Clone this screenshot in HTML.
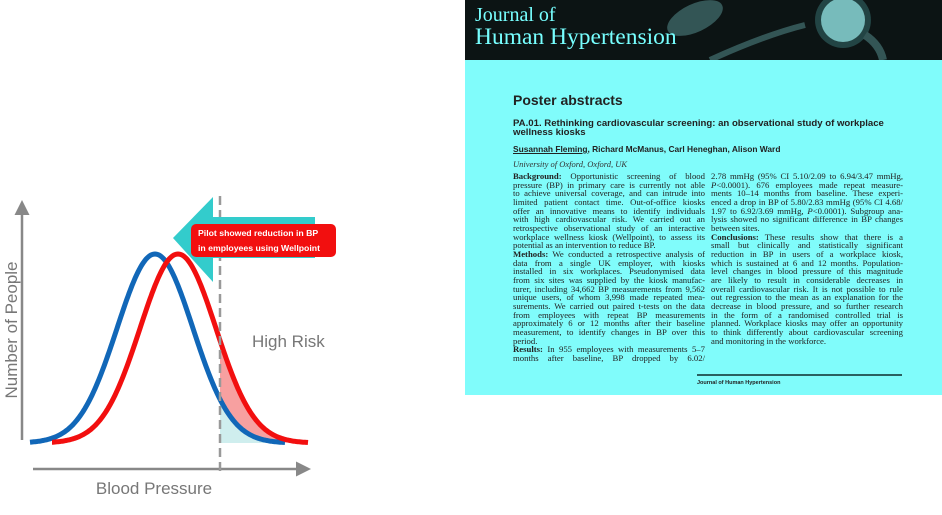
<!DOCTYPE html>
<html><head><meta charset="utf-8">
<style>
*{margin:0;padding:0;box-sizing:border-box}
body{width:942px;height:515px;background:#fff;position:relative;overflow:hidden;font-family:"Liberation Sans",sans-serif}
#panel{position:absolute;left:465px;top:0;width:477px;height:395px;background:#80fcfb}
#hdr{position:absolute;left:0;top:0;width:477px;height:60px;background:#0c1414;overflow:hidden}
.jt{position:absolute;left:10px;color:#7ff;font-family:"Liberation Serif",serif;white-space:nowrap}
.col{position:absolute;top:172px;width:192px;font-family:"Liberation Serif",serif;font-size:8.7px;line-height:8.68px;color:#222}
.col div{text-align:justify;text-align-last:justify;white-space:nowrap;height:8.68px}
.col div.l{text-align-last:left}
b{font-weight:bold}
</style></head><body>
<svg width="465" height="515" style="position:absolute;left:0;top:0">
<defs><marker id="ah" markerWidth="8" markerHeight="8" refX="4" refY="4" orient="auto"><path d="M0,1 L6,4 L0,7 z" fill="#888"/></marker></defs>
<line x1="22" y1="440" x2="22" y2="205" stroke="#888" stroke-width="2.5" marker-end="url(#ah)"/>
<line x1="33" y1="469" x2="306" y2="469" stroke="#888" stroke-width="2.5" marker-end="url(#ah)"/>
<path id="fillred" fill="#f7a0a0"/>
<path id="fillblue" fill="#cfeeee"/>
<path id="blue" fill="none" stroke="#1167b8" stroke-width="5"/>
<path id="red" fill="none" stroke="#f20f0f" stroke-width="5"/>
<line x1="220" y1="196" x2="220" y2="476" stroke="#999" stroke-width="2.5" stroke-dasharray="9,5"/>
<polygon points="173,238 213,197 213,217 315,217 315,258 213,258 213,282" fill="#33cccc"/>
<rect x="191" y="224" width="145" height="33" rx="5" fill="#f20f0f"/>
<text x="198" y="236" font-size="8.7" font-weight="bold" fill="#fff">Pilot showed reduction in BP</text>
<text x="198" y="251" font-size="8.7" font-weight="bold" fill="#fff">in employees using Wellpoint</text>
<text x="252" y="347" font-size="17" fill="#777">High Risk</text>
<text x="154" y="494" font-size="17" fill="#777" text-anchor="middle">Blood Pressure</text>
<text transform="translate(17,330) rotate(-90)" font-size="17" fill="#777" text-anchor="middle">Number of People</text>
</svg>
<script>
function g(m,x){return 443-189*Math.exp(-Math.pow((x-m)/38,2)/2);}
function pth(m,a,b){let s="";for(let x=a;x<=b;x+=1){s+=(x==a?"M":"L")+x+","+g(m,x).toFixed(1);}return s;}
document.getElementById('blue').setAttribute('d',pth(155,30,285));
document.getElementById('red').setAttribute('d',pth(178,52,308));
let s="M220,"+g(178,220).toFixed(1);for(let x=220;x<=300;x++)s+="L"+x+","+g(178,x).toFixed(1);for(let x=300;x>=220;x--)s+="L"+x+","+g(155,x).toFixed(1);s+="Z";
document.getElementById('fillred').setAttribute('d',s);
let t="M220,443";for(let x=220;x<=280;x++)t+="L"+x+","+g(155,x).toFixed(1);t+="L280,443Z";
document.getElementById('fillblue').setAttribute('d',t);
</script>
<div id="panel">
<div id="hdr">
<svg width="477" height="60" style="position:absolute;left:0;top:0">
<ellipse cx="230" cy="18" rx="30" ry="14" fill="#355" transform="rotate(-25 230 18)"/>
<path d="M245,60 Q300,35 340,25" stroke="#355" stroke-width="6" fill="none"/>
<circle cx="378" cy="20" r="28" fill="#244"/>
<circle cx="378" cy="20" r="22" fill="#7bb"/>
<path d="M400,35 Q415,45 418,60" stroke="#355" stroke-width="8" fill="none"/>
</svg>
<div class="jt" style="top:4px;font-size:20px">Journal of</div>
<div class="jt" style="top:24px;font-size:23.5px">Human Hypertension</div>
</div>
<div style="position:absolute;left:48px;top:92px;font-size:14px;font-weight:bold;color:#222">Poster abstracts</div>
<div style="position:absolute;left:48px;top:119px;font-size:9.6px;font-weight:bold;color:#222;line-height:9px;width:420px;white-space:nowrap">PA.01. Rethinking cardiovascular screening: an observational study of workplace<br>wellness kiosks</div>
<div style="position:absolute;left:48px;top:144px;font-size:8.4px;font-weight:bold;color:#222"><u>Susannah Fleming</u>, Richard McManus, Carl Heneghan, Alison Ward</div>
<div style="position:absolute;left:48px;top:159px;font-size:8.5px;font-style:italic;font-family:'Liberation Serif',serif;color:#333">University of Oxford, Oxford, UK</div>
<div class="col" style="left:48px">
<div><b>Background:</b> Opportunistic screening of blood</div>
<div>pressure (BP) in primary care is currently not able</div>
<div>to achieve universal coverage, and can intrude into</div>
<div>limited patient contact time. Out-of-office kiosks</div>
<div>offer an innovative means to identify individuals</div>
<div>with high cardiovascular risk. We carried out an</div>
<div>retrospective observational study of an interactive</div>
<div>workplace wellness kiosk (Wellpoint), to assess its</div>
<div class="l">potential as an intervention to reduce BP.</div>
<div><b>Methods:</b> We conducted a retrospective analysis of</div>
<div>data from a single UK employer, with kiosks</div>
<div>installed in six workplaces. Pseudonymised data</div>
<div>from six sites was supplied by the kiosk manufac-</div>
<div>turer, including 34,662 BP measurements from 9,562</div>
<div>unique users, of whom 3,998 made repeated mea-</div>
<div>surements. We carried out paired t-tests on the data</div>
<div>from employees with repeat BP measurements</div>
<div>approximately 6 or 12 months after their baseline</div>
<div>measurement, to identify changes in BP over this</div>
<div class="l">period.</div>
<div><b>Results:</b> In 955 employees with measurements 5–7</div>
<div>months after baseline, BP dropped by 6.02/</div>
</div>
<div class="col" style="left:246px">
<div>2.78 mmHg (95% CI 5.10/2.09 to 6.94/3.47 mmHg,</div>
<div><i>P</i>&lt;0.0001). 676 employees made repeat measure-</div>
<div>ments 10–14 months from baseline. These experi-</div>
<div>enced a drop in BP of 5.80/2.83 mmHg (95% CI 4.68/</div>
<div>1.97 to 6.92/3.69 mmHg, <i>P</i>&lt;0.0001). Subgroup ana-</div>
<div>lysis showed no significant difference in BP changes</div>
<div class="l">between sites.</div>
<div><b>Conclusions:</b> These results show that there is a</div>
<div>small but clinically and statistically significant</div>
<div>reduction in BP in users of a workplace kiosk,</div>
<div>which is sustained at 6 and 12 months. Population-</div>
<div>level changes in blood pressure of this magnitude</div>
<div>are likely to result in considerable decreases in</div>
<div>overall cardiovascular risk. It is not possible to rule</div>
<div>out regression to the mean as an explanation for the</div>
<div>decrease in blood pressure, and so further research</div>
<div>in the form of a randomised controlled trial is</div>
<div>planned. Workplace kiosks may offer an opportunity</div>
<div>to think differently about cardiovascular screening</div>
<div class="l">and monitoring in the workforce.</div>
</div>
<div style="position:absolute;left:232px;top:374px;width:205px;height:2px;background:#2a6060"></div>
<div style="position:absolute;left:232px;top:380px;font-size:5.5px;font-weight:bold;color:#222">Journal of Human Hypertension</div>
</div>
</body></html>
